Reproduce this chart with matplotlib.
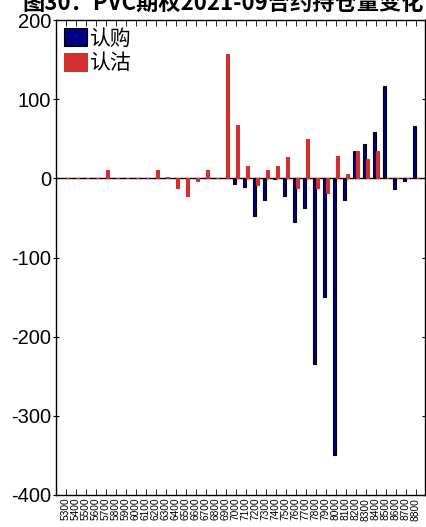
import matplotlib
matplotlib.use("Agg")
import matplotlib.pyplot as plt
import numpy as np

plt.rcParams["font.family"] = ["Liberation Sans", "Noto Sans CJK SC", "DejaVu Sans"]
plt.rcParams["axes.unicode_minus"] = False

title = "图30：PVC期权2021-09合约持仓量变化"
strikes = [str(s) for s in range(5300, 8900, 100)]
call_change = [0, 0, 0, 0, 0, 0, 0, 0, 0, 0, 0, 0, 0, 0, 0, 0, 0,
               -7, -11, -48, -27, -1, -22, -55, -38, -235, -150, -349,
               -27, 34, 43, 58, 117, -13, -4, 66]
put_change = [0, 0, 0, 0, 10, 0, 0, 0, 0, 10, 2, -12, -22, -3, 10, 0, 157,
              67, 16, -8, 10, 16, 27, -12, 50, -12, -19, 28,
              6, 34, 24, 35, 0, 0, 0, 0]
labels = ["认购", "认沽"]

fig = plt.figure(figsize=(4.27, 5.27), dpi=100)
ax = fig.add_axes([56 / 427, 1 - 495 / 527, 369 / 427, 475 / 527])

x = np.arange(len(strikes))
w = 0.28
ax.axhline(0, color="black", lw=1.0, zorder=1)
ax.bar(x - w / 2, call_change, width=w, color="#000080", edgecolor="black",
       linewidth=0.8, label=labels[0], zorder=2)
ax.bar(x + w / 2, put_change, width=w, color="#d03030", edgecolor="#d03030",
       linewidth=0.8, label=labels[1], zorder=3)

ax.set_xlim(-0.98, 35.92)
ax.set_ylim(-400, 200)
ax.set_yticks(range(-400, 201, 100))
ax.set_yticklabels([str(v) for v in range(-400, 201, 100)], fontsize=14.5)
ax.set_xticks(x)
ax.set_xticklabels(strikes, rotation=90, fontsize=7.3)
ax.tick_params(axis="x", direction="in", top=True, length=4, width=0.6, pad=2)
ax.tick_params(axis="y", direction="inout", length=5, width=0.8, pad=1)
ax.tick_params(axis="y", right=True)
for side in ["left", "right", "top", "bottom"]:
    ax.spines[side].set_linewidth(1.0)

ax.legend(loc="upper left", frameon=False, fontsize=15, handlelength=1.1,
          handleheight=0.95, handletextpad=0.1, borderaxespad=0.2,
          labelspacing=0.2, borderpad=0.2)

fig.text(22 / 427, 1 - 9.5 / 527, title, fontsize=16, fontweight="bold",
         family=["Noto Sans CJK SC", "DejaVu Sans"], ha="left", va="baseline")

fig.savefig("out.png", dpi=100)
